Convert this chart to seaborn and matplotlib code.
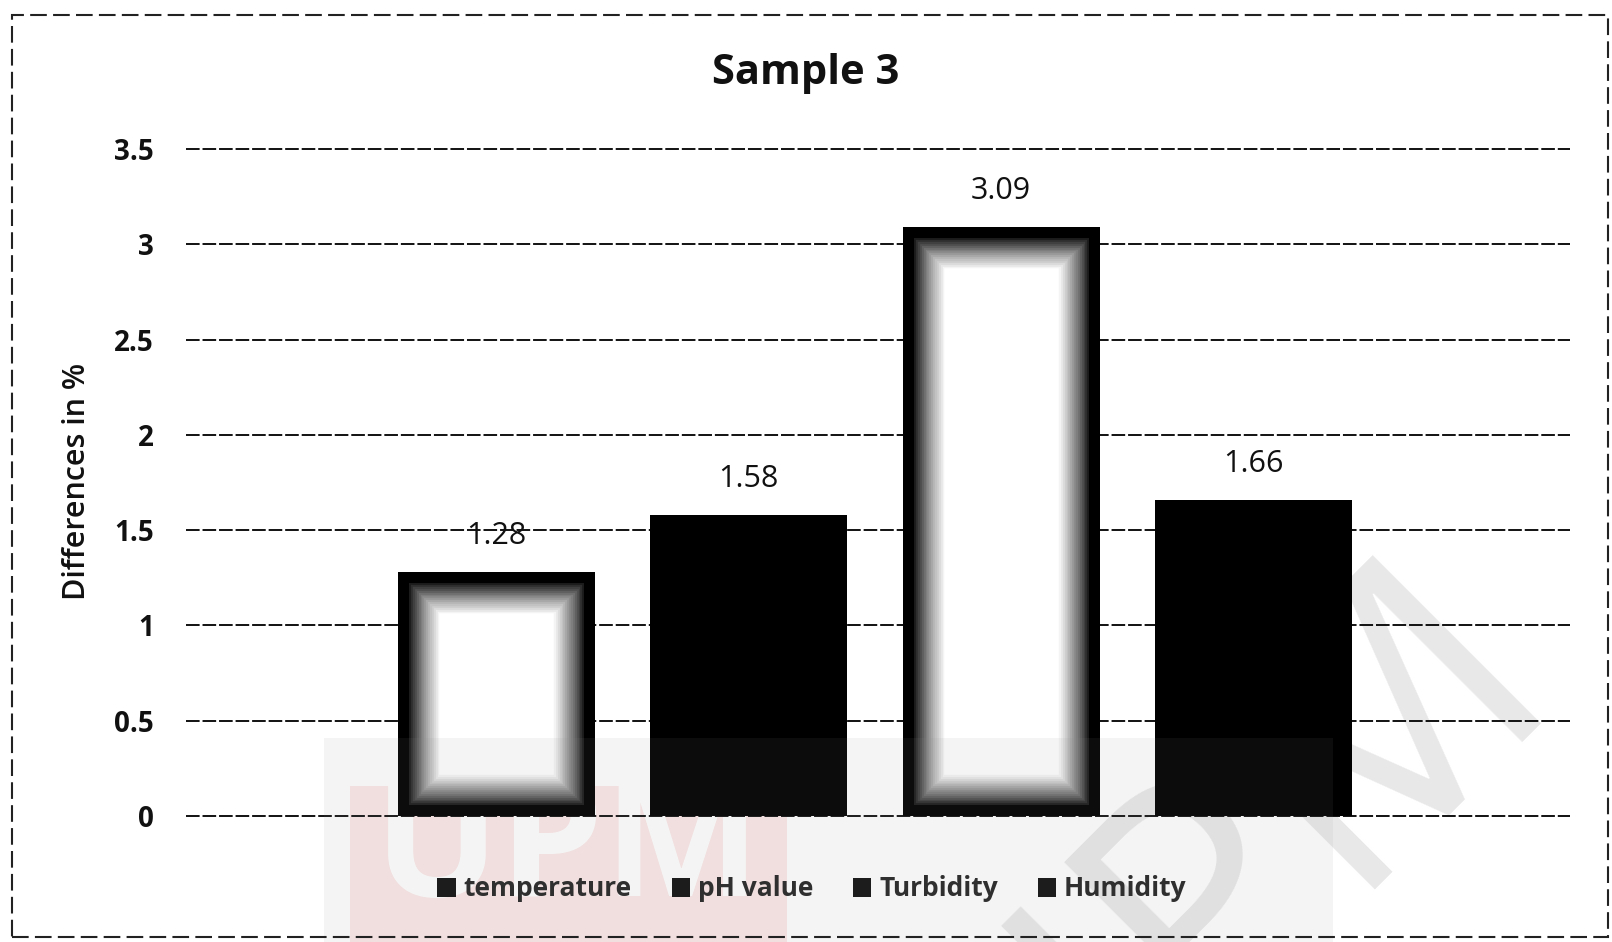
import matplotlib
matplotlib.use("Agg")
import matplotlib.pyplot as plt
import matplotlib.patheffects as pe
from matplotlib.patches import Patch, Rectangle
import pandas as pd
import seaborn as sns

# Chart data
parameters = ["temperature", "pH value", "Turbidity", "Humidity"]
differences = [1.28, 1.58, 3.09, 1.66]
sample_names = ["Sample 3", "Sample 3", "Sample 3", "Sample 3"]
y_ticks = [0, 0.5, 1, 1.5, 2, 2.5, 3, 3.5]
y_tick_labels = ["0", "0.5", "1", "1.5", "2", "2.5", "3", "3.5"]

sns.set_theme(style="white")
plt.rcParams["font.family"] = ["Open Sans", "DejaVu Sans"]


class EdgeOnly(pe.AbstractPathEffect):
    """Stroke the outline of a path without filling it."""

    def __init__(self, linewidth, color):
        super().__init__()
        self._lw = linewidth
        self._color = color

    def draw_path(self, renderer, gc, tpath, affine, rgbFace=None):
        gc0 = renderer.new_gc()
        gc0.copy_properties(gc)
        gc0.set_linewidth(self._lw)
        gc0.set_foreground(self._color)
        gc0.set_joinstyle("miter")
        renderer.draw_path(gc0, tpath, affine, None)
        gc0.restore()


def frame_effects(inner_px=11, fade_px=34, steps=18):
    """Solid dark rim that fades to white toward the inside of a bar."""
    effects = [pe.Normal()]
    for i in range(steps, -1, -1):
        t = i / steps
        depth = inner_px + fade_px * t
        level = min(1.0, t ** 0.8 * 1.05)
        grey = matplotlib.colors.to_hex((level, level, level))
        effects.append(EdgeOnly(2 * depth * 72 / 100, grey))
    return effects


df = pd.DataFrame({"sample": sample_names, "parameter": parameters,
                   "difference": differences})
fills = {"temperature": "white", "pH value": "black",
         "Turbidity": "white", "Humidity": "black"}

fig = plt.figure(figsize=(16.12, 9.42), dpi=100, facecolor="white")

# Repository watermark, behind the chart
fig.patches.append(Rectangle((350 / 1612, 0), 437 / 1612, 156 / 942,
                             transform=fig.transFigure, facecolor="#fbe6e6",
                             edgecolor="none", zorder=-5))
fig.text(568 / 1612, 1 - 852 / 942, "UPM", ha="center", va="center",
         fontsize=120, fontweight="bold", color="white", zorder=-4)
fig.text(1232 / 1612, 1 - 880 / 942, "UPM", ha="center", va="center",
         fontsize=240, fontweight="normal", color="#e8e8e8",
         rotation=45, rotation_mode="anchor", zorder=-4)

ax = fig.add_axes([0.1154, 0.1338, 0.8586, 0.708])
ax.set_facecolor("none")

sns.barplot(data=df, x="sample", y="difference", hue="parameter",
            hue_order=parameters, palette=fills, saturation=1,
            width=0.8, gap=0.22, errorbar=None, legend=False,
            linewidth=0, ax=ax)

# Light bars: heavy dark rim fading toward the middle
for patch, name in zip(ax.patches, parameters):
    patch.set_zorder(3)
    if fills[name] == "white":
        patch.set_edgecolor("black")
        patch.set_linewidth(16)
        patch.set_clip_path(patch)
        patch.set_path_effects(frame_effects())

for container in ax.containers:
    ax.bar_label(container, fmt="%.2f", padding=15, fontsize=22,
                 color="#111111")

ax.set_xlim(-0.5455, 0.5505)
ax.set_ylim(0, 3.5)
ax.set_xticks([])
ax.set_xlabel("")
ax.set_ylabel("")
ax.set_yticks(y_ticks)
ax.set_yticklabels(y_tick_labels, fontsize=20, fontweight="bold",
                   color="#111111")
ax.tick_params(axis="y", length=0, pad=23)
ax.yaxis.grid(True, color="#111111", linestyle=(0, (7, 1.5)), linewidth=1.4)
for gl in ax.get_ygridlines():
    gl.set_clip_on(False)
ax.set_axisbelow(True)
for s in ax.spines.values():
    s.set_visible(False)

fig.text(0.5, 1 - 73 / 942, "Sample 3", ha="center", va="center",
         fontsize=30, fontweight="bold", color="#111111")
fig.text(77 / 1612, 1 - 481 / 942, "Differences in %", ha="center",
         va="center", rotation=90, fontsize=22, fontweight="semibold",
         color="#111111")

handles = [Patch(facecolor="#111111", edgecolor="none") for _ in parameters]
fig.legend(handles, parameters, loc="center",
           bbox_to_anchor=(812 / 1612, 1 - 889 / 942), ncol=4,
           frameon=False, handlelength=0.7, handleheight=0.7,
           handletextpad=0.3, columnspacing=1.5,
           prop={"size": 19, "weight": "bold"})

# Faint grey band of the watermark over the lower part
fig.patches.append(Rectangle((324 / 1612, 0), 1009 / 1612, 204 / 942,
                             transform=fig.transFigure, facecolor="#909090",
                             edgecolor="none", alpha=0.09, zorder=10))

# Dashed outer frame of the chart area
fig.patches.append(Rectangle((12 / 1612, 5 / 942), 1596 / 1612, 922 / 942,
                             transform=fig.transFigure, fill=False,
                             edgecolor="#222222", linewidth=1.5,
                             linestyle=(0, (8, 3)), zorder=11))

fig.savefig("out.png", dpi=100)
